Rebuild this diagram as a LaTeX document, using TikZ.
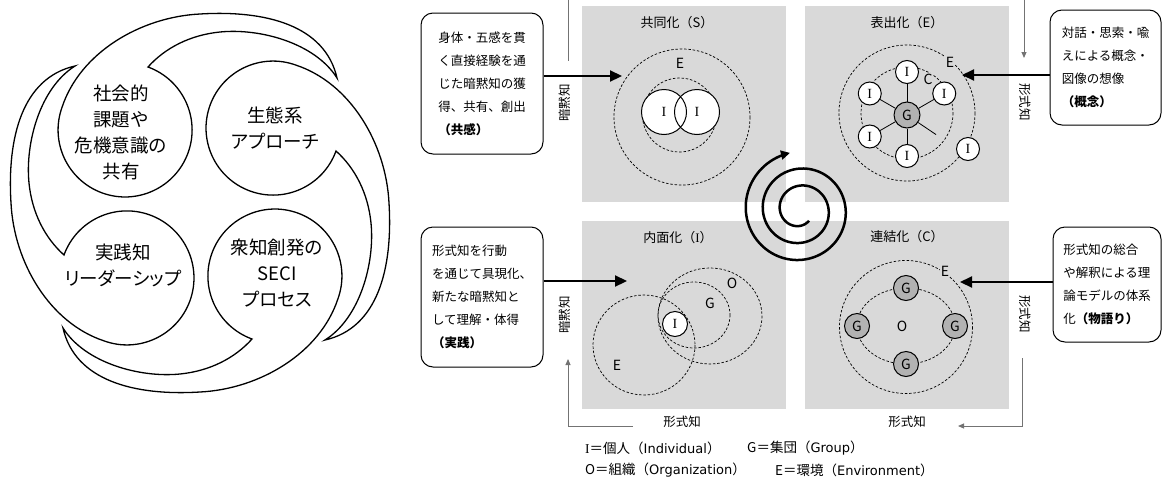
\documentclass[tikz,border=0pt]{standalone}
\usepackage{fontspec}
\setmainfont{Noto Sans CJK JP}
\newfontfamily\pfont[RawFeature=+palt]{Noto Sans CJK JP}
\newfontfamily\serifI{Liberation Serif}
\newfontfamily\lat{DejaVu Sans}
\usetikzlibrary{arrows.meta,calc}
\begin{document}
\begin{tikzpicture}[x=1pt,y=-1pt,
  quad/.style={fill=black!15},
  dsh/.style={draw=black, line width=0.7pt, dash pattern=on 2.5pt off 1.8pt},
  icirc/.style={circle, draw=black, line width=1pt, fill=white, minimum size=23pt, inner sep=0pt, font=\serifI\fontsize{14}{14}\selectfont},
  gcirc/.style={circle, draw=black, line width=1pt, fill=black!30, minimum size=25pt, inner sep=0pt, font=\fontsize{14}{14}\selectfont},
  lbl/.style={font=\fontsize{14}{14}\selectfont, inner sep=1pt},
  qtitle/.style={font=\fontsize{13}{13}\selectfont, inner sep=0pt},
  textbox/.style={draw=black, line width=1pt, rounded corners=12pt, fill=white, align=left, inner sep=0pt, font=\fontsize{12.5}{23}\selectfont},
  bigarrow/.style={line width=2.2pt, -{Triangle[length=12pt,width=11pt]}},
  grayline/.style={draw=black!55, line width=1pt},
  grayarrow/.style={grayline, -{Triangle[length=6pt,width=5pt]}},
  vlabel/.style={font=\fontsize{12.5}{12.5}\selectfont, inner sep=0pt},
  tomoe/.style={draw=black, line width=1.3pt, fill=white},
  headtext/.style={align=center, font=\fontsize{18.5}{26}\selectfont, inner sep=0pt},
  spiralline/.style={line width=2.5pt, -{Triangle[length=9pt,width=9pt]}},
  legend/.style={anchor=west, inner sep=0pt, font=\fontsize{13.5}{13.5}\selectfont}
]
\useasboundingbox (0,0) rectangle (1162,477);
\clip (0,0) rectangle (1162,477);

% ---------------- left: four tomoe ----------------
\foreach \ang in {0,-90,-180,-270}{
  \begin{scope}[shift={(200,203)}, rotate=\ang]
    \draw[tomoe] (-52,-136) arc[start angle=-70, end angle=200, radius=67]
      .. controls (-120,-150) and (-60,-186) .. (0,-189)
      .. controls (65,-193) and (125,-178) .. (137,-125)
      .. controls (115,-160) and (60,-175) .. (20,-171)
      .. controls (-10,-168) and (-35,-155) .. cycle;
  \end{scope}
}
\node[headtext] (hTL) at (121,132) {社会的\\課題や\\危機意識の\\共有};
\node[headtext] (hTR) at (275,128) {生態系\\{\pfont アプローチ}};
\node[headtext] (hBL) at (123,265) {実践知\\{\pfont リーダーシップ}};
\node[headtext] (hBR) at (277,273) {衆知創発の\\SECI\\{\pfont プロセス}};

% ---------------- quadrants ----------------
\fill[quad] (582,6) rectangle (786,202);
\fill[quad] (805,6) rectangle (1009,202);
\fill[quad] (582,221) rectangle (786,409);
\fill[quad] (805,221) rectangle (1009,409);

\node[qtitle] (tS) at (677,23) {共同化（S）};
\node[qtitle] (tE) at (907,23) {表出化（E）};
\node[qtitle] (tI) at (678,238) {内面化（{\serifI I}）};
\node[qtitle] (tC) at (907,237) {連結化（C）};

% --- S quadrant
\draw[dsh] (682,117) circle (68);
\draw[dsh] (679.5,115) circle (37);
\node[lbl] (eS) at (680,63) {E};
\fill[white] (664,112) circle (22.5);
\fill[white] (697,112) circle (22.5);
\node[icirc, fill=none, minimum size=45pt] (iS1) at (664,112) {I};
\node[icirc, fill=none, minimum size=45pt] (iS2) at (697,112) {I};

% --- E quadrant
\draw[dsh] (907,113) circle (68);
\draw[dsh] (907,113) circle (46);
\node[lbl, fill=black!15] (eE) at (950,62) {E};
\node[lbl, fill=black!15] (cE) at (928,79) {C};
\node[gcirc, minimum size=26pt] (gE) at (907,115) {G};
\node[icirc] (iE1) at ($(gE.center)+(-90:43)$) {I};
\node[icirc] (iE2) at ($(gE.center)+(-150:43)$) {I};
\node[icirc] (iE3) at ($(gE.center)+(-30:43)$) {I};
\node[icirc] (iE4) at ($(gE.center)+(150:43)$) {I};
\node[icirc] (iE5) at ($(gE.center)+(90:41)$) {I};
\coordinate (eEnd) at ($(gE.center)+(34:35)$);
\node[icirc] (iE6) at (968,149) {I};
\foreach \n in {iE1,iE2,iE3,iE4,iE5} \draw[line width=0.8pt] (gE) -- (\n);
\draw[line width=0.8pt] (gE) -- (eEnd);

% --- I quadrant
\draw[dsh] (644,345) ellipse [x radius=51, y radius=50];
\draw[dsh] (710,316) ellipse [x radius=52, y radius=48];
\draw[dsh] (694,315) ellipse [x radius=36, y radius=33];
\node[icirc, minimum size=25pt] (iI) at (675,324) {I};
\node[lbl] (oI) at (732,283) {O};
\node[lbl] (gI) at (710,303) {G};
\node[lbl] (eI) at (617,365) {E};

% --- C quadrant
\draw[dsh] (906,327) circle (66.5);
\draw[dsh] (906,326) ellipse [x radius=49, y radius=38];
\node[lbl, fill=black!15] (eC) at (945,271) {E};
\node[gcirc] (gC1) at (906,288) {G};
\node[gcirc] (gC2) at (857,326) {G};
\node[gcirc] (gC3) at (955,326) {G};
\node[gcirc] (gC4) at (906,364) {G};
\node[lbl] (oC) at (902,326) {O};

% ---------------- spiral ----------------
\draw[spiralline] plot[domain=50:980, samples=260, smooth]
  ({800+(14+(\x-50)*0.0473)*cos(\x)}, {210+(14+(\x-50)*0.0473)*sin(\x)});

% ---------------- text boxes ----------------
\node[textbox, minimum width=122pt, minimum height=141pt] (boxS) at (482,83.5)
  {身体・五感を貫\\く直接経験を通\\じた暗黙知の獲\\得、共有、創出\\{\bfseries （共感）}};
\node[textbox, minimum width=122pt, minimum height=140pt] (boxI) at (482,297)
  {形式知を行動\\を通じて具現化、\\新たな暗黙知と\\して理解・体得\\{\bfseries （実践）}};
\node[textbox, minimum width=111pt, minimum height=115pt] (boxE) at (1105.5,67.5)
  {対話・思索・喩\\えによる概念・\\図像の想像\\{\bfseries （概念）}};
\node[textbox, minimum width=108pt, minimum height=115pt] (boxC) at (1107,284.5)
  {形式知の総合\\や解釈による理\\論モデルの体系\\化{\bfseries （物語り）}};

% ---------------- main arrows ----------------
\coordinate (aS) at (622,76);
\coordinate (aI) at (627,281);
\coordinate (aE) at (962,75);
\coordinate (aC) at (960,282);
\draw[bigarrow] (boxS.east |- aS) -- (aS);
\draw[bigarrow] (boxI.east |- aI) -- (aI);
\draw[bigarrow] (boxE.west |- aE) -- (aE);
\draw[bigarrow] (boxC.west |- aC) -- (aC);

% ---------------- side labels ----------------
\node[vlabel, rotate=90] (vS) at (565,103) {暗黙知};
\node[vlabel, rotate=90] (vI) at (565,315) {暗黙知};
\node[vlabel, rotate=-90] (vE) at (1025,102) {形式知};
\node[vlabel, rotate=-90] (vC) at (1025,314) {形式知};
\node[vlabel] (hI) at (682,422) {形式知};
\node[vlabel] (hC) at (907,422) {形式知};

% ---------------- gray lines ----------------
\coordinate (g1a) at (568,0);  \coordinate (g1b) at (568,61);
\draw[grayline] (g1a) -- (g1b);
\coordinate (g2a) at (1024,0); \coordinate (g2b) at (1024,58);
\draw[grayarrow] (g2a) -- (g2b);
\coordinate (g3a) at (633,426); \coordinate (g3b) at (568,426); \coordinate (g3c) at (568,359);
\draw[grayarrow] (g3a) -- (g3b) -- (g3c);
\coordinate (g4a) at (1022,358); \coordinate (g4b) at (1022,426); \coordinate (g4c) at (958,426);
\draw[grayarrow] (g4a) -- (g4b) -- (g4c);

% ---------------- legend ----------------
\node[legend] (lg1) at (585,448) {{\serifI I}＝個人（{\lat\fontsize{13}{13}\selectfont Individual}）};
\node[legend] (lg2) at (747,448) {G＝集団（{\lat\fontsize{13}{13}\selectfont Group}）};
\node[legend] (lg3) at (585,470) {O＝組織（{\lat\fontsize{13}{13}\selectfont Organization}）};
\node[legend] (lg4) at (775,470) {E＝環境（{\lat\fontsize{13}{13}\selectfont Environment}）};
\end{tikzpicture}
\end{document}
